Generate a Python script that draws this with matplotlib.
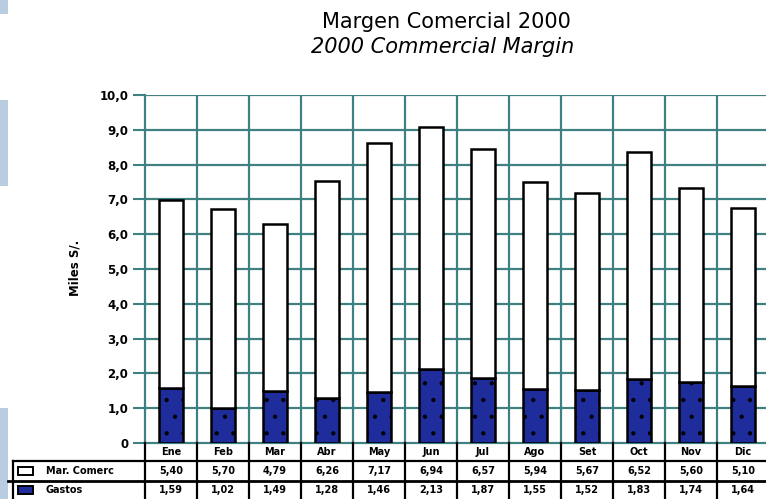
import matplotlib
matplotlib.use("Agg")
import matplotlib.pyplot as plt
from matplotlib.patches import Rectangle
from matplotlib.lines import Line2D
from matplotlib.transforms import blended_transform_factory
import numpy as np

# monthly figures, thousands of soles
months = ["Ene", "Feb", "Mar", "Abr", "May", "Jun",
          "Jul", "Ago", "Set", "Oct", "Nov", "Dic"]
margen = [5.40, 5.70, 4.79, 6.26, 7.17, 6.94, 6.57, 5.94, 5.67, 6.52, 5.60, 5.10]
gastos = [1.59, 1.02, 1.49, 1.28, 1.46, 2.13, 1.87, 1.55, 1.52, 1.83, 1.74, 1.64]
series_names = ["Mar. Comerc", "Gastos"]
yticks = np.arange(0, 11, 1)

W, H = 766, 499
BLUE = "#1e2c9c"
TEAL = "#3f8080"


def fx(px):
    return px / W


def fy(py):
    return 1 - py / H


def comma(v, nd=2):
    return f"{v:.{nd}f}".replace(".", ",")


plt.rcParams["hatch.linewidth"] = 0.6
fig = plt.figure(figsize=(W / 100, H / 100), dpi=100)
ax = fig.add_axes([fx(145), fy(443), fx(769) - fx(145), fy(95) - fy(443)])

x = np.arange(len(months))
ax.bar(x, gastos, width=0.46, color=BLUE, edgecolor="black", linewidth=1.8,
       hatch=".", zorder=3)
ax.bar(x, margen, width=0.46, bottom=gastos, color="white", edgecolor="black",
       linewidth=1.8, zorder=3)

ax.set_xlim(-0.5, len(months) - 0.5)
ax.set_ylim(0, 10)
ax.set_yticks(yticks)
ax.set_yticklabels(["0"] + [comma(v, 1) for v in yticks[1:]],
                   fontsize=8.5, fontweight="bold")
ax.tick_params(axis="y", length=9, width=1.5, color=TEAL, pad=3)
ax.set_xticks([])

# grid: horizontal at every unit, vertical between months
for v in yticks[1:]:
    ax.axhline(v, color=TEAL, lw=1.6, zorder=1)
for i in range(len(months)):
    ax.axvline(i + 0.5, color=TEAL, lw=1.6, zorder=1)
for s in ["top", "right"]:
    ax.spines[s].set_visible(False)
ax.spines["left"].set_color(TEAL)
ax.spines["left"].set_linewidth(1.6)
ax.spines["left"].set_linestyle((0, (2, 1)))
ax.spines["bottom"].set_color(TEAL)
ax.spines["bottom"].set_linewidth(1.6)

fig.text(fx(75), fy(268), "Miles S/.", rotation=90, ha="center", va="center",
         fontsize=8.5, fontweight="bold")

fig.text(fx(446), fy(22), "Margen Comercial 2000", ha="center", va="center",
         fontsize=15)
fig.text(fx(443), fy(47), "2000 Commercial Margin", ha="center", va="center",
         fontsize=15, style="italic")

# data table under the axis
tr = blended_transform_factory(ax.transData, fig.transFigure)
for i in range(len(months) + 1):
    fig.add_artist(Line2D([i - 0.5, i - 0.5], [fy(443), fy(499)], transform=tr,
                          color="black", lw=1.6, clip_on=False))
fig.add_artist(Line2D([fx(13), 1], [fy(461), fy(461)], color="black", lw=1.6))
fig.add_artist(Line2D([fx(8), 1], [fy(481), fy(481)], color="black", lw=2.0))
fig.add_artist(Line2D([fx(13), fx(13)], [fy(461), fy(499)], color="black", lw=1.6))

for i, m in enumerate(months):
    fig.text(i, fy(452), m, transform=tr, ha="center", va="center",
             fontsize=7, fontweight="bold")
    fig.text(i, fy(471), comma(margen[i]), transform=tr, ha="center",
             va="center", fontsize=7, fontweight="bold")
    fig.text(i, fy(490), comma(gastos[i]), transform=tr, ha="center",
             va="center", fontsize=7, fontweight="bold")

for name, col, yc in [(series_names[0], "white", 471), (series_names[1], BLUE, 490)]:
    fig.add_artist(Rectangle((fx(18), fy(yc + 4)), fx(15), fy(yc - 4) - fy(yc + 4),
                             facecolor=col, edgecolor="black", lw=1.4))
    fig.text(fx(46), fy(yc), name, ha="left", va="center", fontsize=7,
             fontweight="bold")

# light page strip on the left edge
for y0, y1 in [(0, 14), (100, 186), (408, 499)]:
    fig.add_artist(Rectangle((0, fy(y1)), fx(8), fy(y0) - fy(y1),
                             facecolor="#b9cde0", edgecolor="none"))

fig.savefig("out.png", dpi=100)
